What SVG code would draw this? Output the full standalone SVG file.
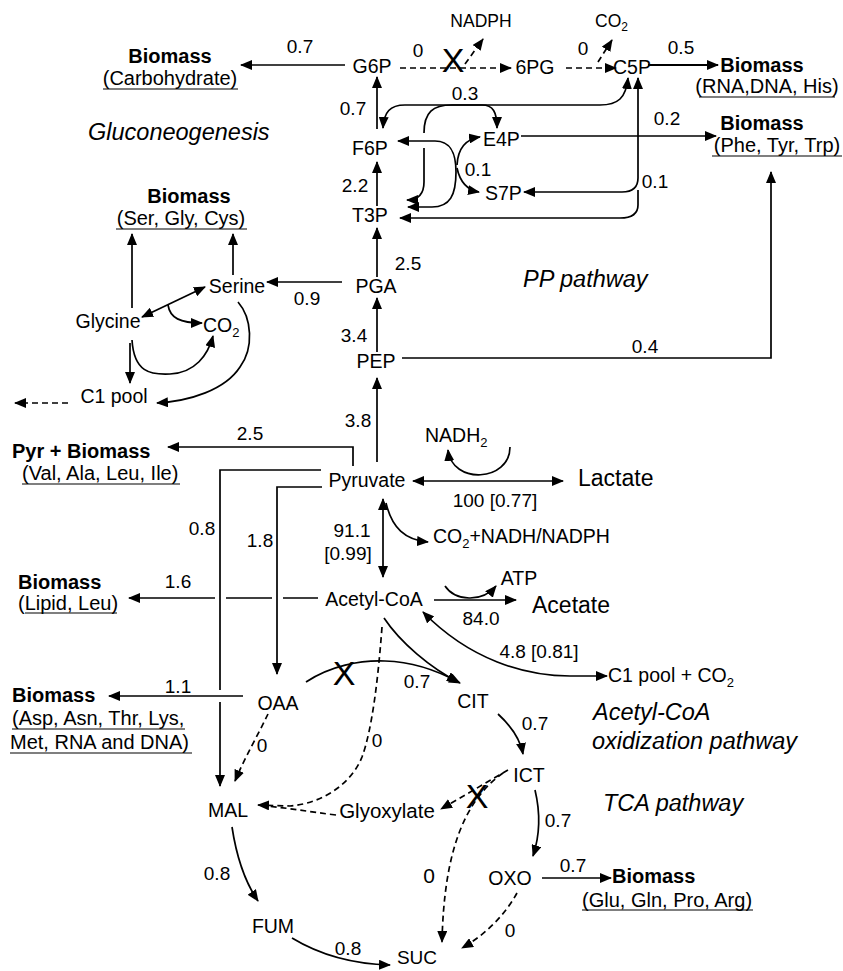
<svg xmlns="http://www.w3.org/2000/svg" width="843" height="971" viewBox="0 0 843 971">
<style>
text{font-family:"Liberation Sans",Arial,Helvetica,sans-serif;fill:#000}
.t{font-size:19.5px}
.n{font-size:19px}
.b{font-size:20px;font-weight:bold}
.s{font-size:20px}
.i{font-size:23.5px;font-style:italic}
.L{font-size:23px}
.x{font-size:34px}
.m{text-anchor:middle}
.c{fill:none;stroke:#000;stroke-width:1.7}
.d{stroke-dasharray:6 4}
.u{stroke:#000;stroke-width:1.2}
.ah{marker-end:url(#ah)}
.ah2{marker-start:url(#ah);marker-end:url(#ah)}
</style>
<defs>
<marker id="ah" viewBox="0 0 12 10" refX="11" refY="5" markerWidth="12" markerHeight="10" markerUnits="userSpaceOnUse" orient="auto-start-reverse">
<path d="M0,0 L12,5 L0,10 z" fill="#000"/>
</marker>
</defs>
<rect width="843" height="971" fill="#fff"/>

<g id="connectors">
<path class="c ah" d="M345,65 L241,65"/>
<path class="c d ah" d="M400,68 L511,68"/>
<path class="c d ah" d="M465,64 L483,39"/>
<path class="c d ah" d="M566,68 L616,68"/>
<path class="c d ah" d="M598,62 L612,40"/>
<path class="c ah" style="stroke-width:2.2" d="M648,65 L718,65"/>
<path class="c ah" d="M377,129 L377,77"/>
<path class="c ah2" d="M628,78 C626,98 618,105 600,105 L405,105 C390,105 384,112 383,128"/>
<path class="c ah" d="M424,133 C424,112 433,105 452,105 L482,105 C493,105 497,112 497,128"/>
<path class="c ah" d="M424,148 L424,182 C424,194 419,200 407,200"/>
<path class="c ah2" d="M398,141 L435,141 C452,141 456,155 456,172 C456,195 450,207 432,207 L408,207"/>
<path class="c ah" d="M457,165 C458,148 466,139 480,137"/>
<path class="c ah" d="M457,168 C460,182 467,190 479,192"/>
<path class="c ah2" d="M638,78 L638,178 C638,188 632,192 622,192 L524,192"/>
<path class="c ah" d="M638,190 L638,205 C638,214 632,218 620,218 L400,218"/>
<path class="c ah" d="M521,136 L716,136"/>
<path class="c ah" d="M377,206 L377,162"/>
<path class="c ah" d="M377,277 L377,228"/>
<path class="c ah" d="M342,282 L267,282"/>
<path class="c ah" d="M377,352 L377,298"/>
<path class="c ah" d="M402,358 L771,358 L771,172"/>
<path class="c ah" d="M377,462 L377,378"/>
<path class="c ah" d="M132,308 L132,234"/>
<path class="c ah" d="M233,275 L233,234"/>
<path class="c ah2" d="M142,317 L205,287"/>
<path class="c ah" d="M168,305 C170,318 180,323 202,323"/>
<path class="c ah" d="M132,340 C134,372 150,375 170,374 C195,373 208,355 213,336"/>
<path class="c ah" d="M130,343 L130,383"/>
<path class="c ah" d="M238,302 C252,318 254,348 240,367 C225,390 190,401 157,403"/>
<path class="c d ah" d="M68,403 L15,403"/>
<path class="c ah" d="M353,466 L353,447 L168,447"/>
<path class="c" d="M321,470 L220,470 L220,690"/>
<path class="c ah" d="M220,702 L220,786"/>
<path class="c ah" d="M322,487 L277,487 L277,674"/>
<path class="c" d="M318,598 L283,598 M272,598 L226,598"/>
<path class="c ah" d="M215,598 L129,598"/>
<path class="c ah" d="M243,696 L109,696"/>
<path class="c ah" d="M510,447 C510,482 452,485 448,450"/>
<path class="c ah2" d="M413,481 L563,481"/>
<path class="c ah2" d="M383,499 L383,577"/>
<path class="c ah" d="M386,503 C392,528 405,540 428,542"/>
<path class="c ah" d="M445,586 C455,601 482,603 496,586"/>
<path class="c ah" d="M434,600 L516,600"/>
<path class="c ah2" d="M423,612 C470,660 525,676 570,676 L607,676"/>
<path class="c ah" d="M384,618 C400,642 430,668 460,683"/>
<path class="c ah" d="M306,682 C330,666 360,660 385,661 C415,662 440,672 458,682"/>
<path class="c d ah" d="M382,627 C378,680 372,730 362,757 C352,782 325,803 290,806 L258,805"/>
<path class="c d" d="M336,815 C310,812 290,808 265,806"/>
<path class="c d ah" d="M268,714 C258,735 245,757 235,781"/>
<path class="c ah" d="M498,714 C510,725 520,738 523,754"/>
<path class="c d ah" d="M508,770 L441,809"/>
<path class="c d ah" d="M503,773 C465,800 444,850 442,942"/>
<path class="c ah" d="M535,790 C541,815 539,838 533,856"/>
<path class="c d ah" d="M517,893 C505,915 485,935 462,948"/>
<path class="c ah" d="M542,878 L611,878"/>
<path class="c ah" d="M232,827 C237,860 245,882 258,901"/>
<path class="c ah" d="M292,938 C320,955 352,964 390,965"/>
<text class="x m" x="453" y="72">X</text>
<text class="x m" x="344" y="685">X</text>
<text class="x m" x="477" y="808">X</text>
</g>

<g id="labels">
<text class="n m" x="300" y="53">0.7</text>
<text class="n m" x="418" y="57">0</text>
<text class="n m" x="583" y="55">0</text>
<text class="n m" x="681" y="54">0.5</text>
<text class="n m" x="353" y="115">0.7</text>
<text class="n m" x="465" y="100">0.3</text>
<text class="n m" x="667" y="125">0.2</text>
<text class="n m" x="478" y="176">0.1</text>
<text class="n m" x="655" y="188">0.1</text>
<text class="n m" x="355" y="192">2.2</text>
<text class="n m" x="408" y="270">2.5</text>
<text class="n m" x="307" y="305">0.9</text>
<text class="n m" x="354" y="342">3.4</text>
<text class="n m" x="645" y="353">0.4</text>
<text class="n m" x="358" y="427">3.8</text>
<text class="n m" x="250" y="440">2.5</text>
<text class="n m" x="495" y="507">100 [0.77]</text>
<text class="n m" x="202" y="535">0.8</text>
<text class="n m" x="260" y="547">1.8</text>
<text class="n m" x="352" y="537">91.1</text>
<text class="n m" x="348" y="560">[0.99]</text>
<text class="n m" x="178" y="588">1.6</text>
<text class="n m" x="481" y="625">84.0</text>
<text class="n m" x="539" y="658">4.8 [0.81]</text>
<text class="n m" x="178" y="693">1.1</text>
<text class="n m" x="417" y="688">0.7</text>
<text class="n m" x="535" y="730">0.7</text>
<text class="n m" x="262" y="752">0</text>
<text class="n m" x="377" y="747">0</text>
<text class="n m" x="558" y="827">0.7</text>
<text class="n m" x="429" y="883" style="font-size:21px">0</text>
<text class="n m" x="573" y="872">0.7</text>
<text class="n m" x="217" y="880">0.8</text>
<text class="n m" x="510" y="937">0</text>
<text class="n m" x="348" y="955">0.8</text>
</g>

<g id="regions">
<text class="i" x="88" y="140">Gluconeogenesis</text>
<text class="i" x="523" y="287">PP pathway</text>
<text class="i" x="593" y="720">Acetyl-CoA</text>
<text class="i" x="592" y="749">oxidization pathway</text>
<text class="i" x="603" y="811">TCA pathway</text>
</g>

<g id="bio-carbohydrate"><text class="b m" x="170" y="63">Biomass</text><text class="s m" x="170" y="85">(Carbohydrate)</text><line class="u" x1="103" y1="89" x2="238" y2="89"/></g>
<g id="bio-rna"><text class="b m" x="762" y="72">Biomass</text><text class="s m" x="767" y="93">(RNA,DNA, His)</text><line class="u" x1="699" y1="97" x2="835" y2="97"/></g>
<g id="bio-phe"><text class="b m" x="762" y="130">Biomass</text><text class="s m" x="777" y="152">(Phe, Tyr, Trp)</text><line class="u" x1="712" y1="156" x2="842" y2="156"/></g>
<g id="bio-ser"><text class="b m" x="189" y="203">Biomass</text><text class="s m" x="181" y="225">(Ser, Gly, Cys)</text><line class="u" x1="116" y1="229" x2="247" y2="229"/></g>
<g id="bio-pyr"><text class="b" x="12" y="458">Pyr + Biomass</text><text class="s" x="22" y="480">(Val, Ala, Leu, Ile)</text><line class="u" x1="22" y1="484" x2="180" y2="484"/></g>
<g id="bio-lipid"><text class="b" x="18" y="589">Biomass</text><text class="s" x="18" y="610">(Lipid, Leu)</text><line class="u" x1="25" y1="613" x2="117" y2="613"/></g>
<g id="bio-asp"><text class="b" x="12" y="702">Biomass</text><text class="s" x="12" y="725">(Asp, Asn, Thr, Lys,</text><line class="u" x1="12" y1="729" x2="185" y2="729"/><text class="s" x="10" y="749">Met, RNA and DNA)</text><line class="u" x1="10" y1="753" x2="192" y2="753"/></g>
<g id="bio-glu"><text class="b" x="612" y="883">Biomass</text><text class="s" x="582" y="907">(Glu, Gln, Pro, Arg)</text><line class="u" x1="582" y1="910" x2="753" y2="910"/></g>

<g id="nadph"><text x="481" y="27" class="m" style="font-size:17.5px">NADPH</text></g>
<g id="co2-top"><text x="595" y="27" style="font-size:17.5px">CO<tspan dy="4" style="font-size:12px">2</tspan></text></g>
<g id="g6p"><text class="t m" x="372" y="73">G6P</text></g>
<g id="6pg"><text class="t m" x="535" y="74">6PG</text></g>
<g id="c5p"><text class="t m" x="632" y="74">C5P</text></g>
<g id="f6p"><text class="t m" x="370" y="155">F6P</text></g>
<g id="e4p"><text class="t" x="483" y="146">E4P</text></g>
<g id="s7p"><text class="t" x="485" y="200">S7P</text></g>
<g id="t3p"><text class="t m" x="370" y="222">T3P</text></g>
<g id="pga"><text class="t m" x="376" y="293">PGA</text></g>
<g id="pep"><text class="t m" x="376" y="368">PEP</text></g>
<g id="serine"><text class="t m" x="237" y="293">Serine</text></g>
<g id="glycine"><text class="t m" x="108" y="328">Glycine</text></g>
<g id="co2-mid"><text class="t" x="203" y="332">CO<tspan dy="5" style="font-size:13px">2</tspan></text></g>
<g id="c1pool"><text class="t m" x="114" y="403">C1 pool</text></g>
<g id="pyruvate"><text class="t m" x="367" y="487">Pyruvate</text></g>
<g id="nadh2"><text class="t" x="425" y="442">NADH<tspan dy="5" style="font-size:13px">2</tspan></text></g>
<g id="lactate"><text class="L" x="578" y="486">Lactate</text></g>
<g id="co2-nadh"><text class="t" x="433" y="543">CO<tspan dy="5" style="font-size:13px">2</tspan><tspan dy="-5">+NADH/NADPH</tspan></text></g>
<g id="acetyl-coa"><text class="t m" x="374" y="606">Acetyl-CoA</text></g>
<g id="atp"><text class="t m" x="519" y="585">ATP</text></g>
<g id="acetate"><text class="L" x="532" y="613">Acetate</text></g>
<g id="c1pool-co2"><text class="t" x="608" y="682">C1 pool + CO<tspan dy="5" style="font-size:13px">2</tspan></text></g>
<g id="oaa"><text class="t m" x="278" y="710">OAA</text></g>
<g id="cit"><text class="t m" x="473" y="708">CIT</text></g>
<g id="ict"><text class="t m" x="529" y="782">ICT</text></g>
<g id="glyoxylate"><text class="t m" x="387" y="818" style="font-size:20.5px">Glyoxylate</text></g>
<g id="mal"><text class="t m" x="228" y="817">MAL</text></g>
<g id="fum"><text class="t m" x="273" y="933">FUM</text></g>
<g id="suc"><text class="t m" x="417" y="964" style="font-size:19px">SUC</text></g>
<g id="oxo"><text class="t m" x="510" y="885">OXO</text></g>
</svg>
